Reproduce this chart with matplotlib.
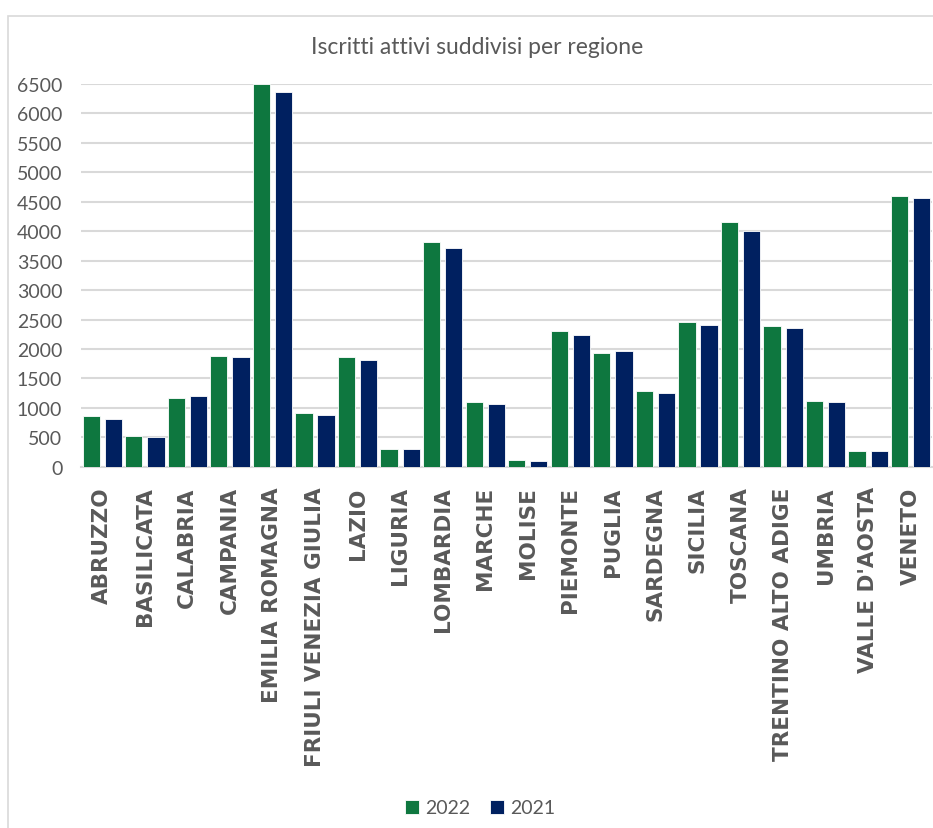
import matplotlib
matplotlib.use("Agg")
import matplotlib.pyplot as plt
import numpy as np
from matplotlib.patches import Rectangle

regions = ["ABRUZZO", "BASILICATA", "CALABRIA", "CAMPANIA", "EMILIA ROMAGNA",
           "FRIULI VENEZIA GIULIA", "LAZIO", "LIGURIA", "LOMBARDIA", "MARCHE",
           "MOLISE", "PIEMONTE", "PUGLIA", "SARDEGNA", "SICILIA", "TOSCANA",
           "TRENTINO ALTO ADIGE", "UMBRIA", "VALLE D'AOSTA", "VENETO"]
values_2022 = [856, 521, 1172, 1880, 6500, 907, 1858, 306, 3816, 1094,
               109, 2300, 1926, 1281, 2463, 4151, 2385, 1111, 267, 4598]
values_2021 = [815, 504, 1195, 1863, 6364, 878, 1817, 295, 3720, 1065,
               105, 2232, 1970, 1257, 2412, 4003, 2361, 1104, 267, 4559]
series_labels = ["2022", "2021"]
yticks = list(range(0, 6501, 500))
title = "Iscritti attivi suddivisi per regione"

GREEN = "#0e773f"
NAVY = "#002060"
GRAY = "#595959"

W, H = 933, 829
fig = plt.figure(figsize=(W / 100, H / 100), dpi=100)
fig.patch.set_facecolor("white")

# chart border (left and top visible; right and bottom cropped off)
fig.patches.append(Rectangle((8 / W, -0.05), 1.1, 1.05 - 16.5 / H,
                             transform=fig.transFigure, fill=False,
                             edgecolor="#d9d9d9", linewidth=1.2))

ax = fig.add_axes([81 / W, 1 - 467.7 / H, 851 / W, 382.7 / H])
x = np.arange(len(regions))
bw = 0.405
off = 0.26
ax.bar(x - off, values_2022, bw, color=GREEN, edgecolor="white", linewidth=0.6,
       label=series_labels[0], zorder=3)
ax.bar(x + off, values_2021, bw, color=NAVY, edgecolor="white", linewidth=0.6,
       label=series_labels[1], zorder=3)

ax.set_xlim(-0.5, len(regions) - 0.5)
ax.set_ylim(0, 6500)
ax.set_yticks(yticks)
ax.set_yticklabels([str(v) for v in yticks], family="Lato", fontsize=14, color=GRAY)
ax.set_xticks(x)
ax.set_xticklabels(regions, rotation=90, family="DejaVu Sans", fontweight="bold",
                   fontsize=15.5, color=GRAY, va="top", ha="center")
ax.tick_params(axis="both", length=0)
ax.tick_params(axis="y", pad=13.5)
ax.tick_params(axis="x", pad=14)
ax.yaxis.grid(True, color="#d9d9d9", linewidth=1.5, zorder=0)
ax.set_axisbelow(True)
for s in ["top", "right", "left"]:
    ax.spines[s].set_visible(False)
ax.spines["bottom"].set_color("#d9d9d9")
ax.spines["bottom"].set_linewidth(1.5)
ax.set_facecolor("none")

fig.text(477 / W, 1 - 47 / H, title, ha="center", va="center", family="Lato",
         fontsize=16.5, color=GRAY)

leg = fig.legend(loc="center", bbox_to_anchor=(480 / W, 1 - 809 / H), ncol=2,
                 frameon=False, prop={"family": "Lato", "size": 14},
                 handlelength=0.75, handleheight=0.75, handletextpad=0.3,
                 columnspacing=1.0)
for t in leg.get_texts():
    t.set_color(GRAY)

fig.savefig("out.png", dpi=100, facecolor="white")
